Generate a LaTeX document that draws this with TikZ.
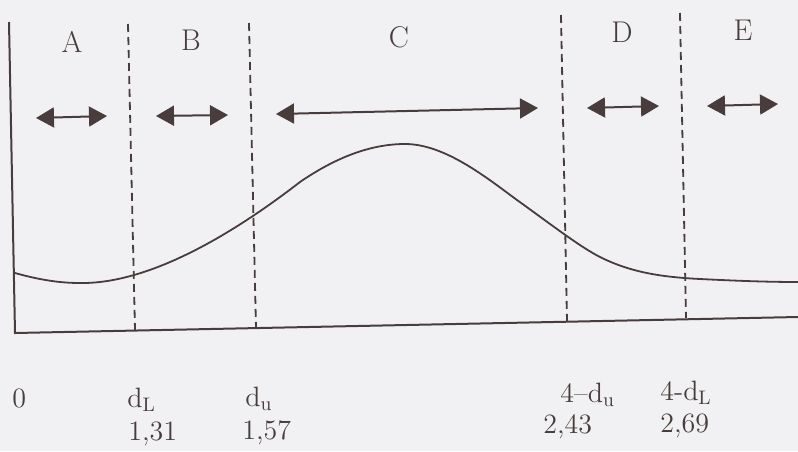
\documentclass[tikz,border=0pt]{standalone}
\usetikzlibrary{arrows.meta}
\definecolor{ink}{RGB}{72,60,60}
\definecolor{paper}{RGB}{241,241,243}
\tikzset{
  zone/.style={font=\fontsize{15}{18}\selectfont, text=ink},
  mark label/.style={font=\fontsize{14}{17}\selectfont, text=ink, anchor=base west, inner sep=0pt},
  span arrow/.style={ink, line width=1pt, {Triangle[length=9pt,width=10pt]}-{Triangle[length=9pt,width=10pt]}},
  border/.style={ink, dashed, dash pattern=on 4pt off 2.5pt, line width=0.9pt}
}
\begin{document}
\begin{tikzpicture}[x=0.5pt, y=-0.5pt]
    % Page
    \fill[paper] (0,0) rectangle (798,451);
    \useasboundingbox (0,0) rectangle (798,451);

    % Axes
    \draw[ink, line width=1pt] (9,22) -- (15,333) -- (798,317);

    % Zone borders
    \foreach \xt/\yt/\xb/\yb in {128/24/135/330, 249/23/256/328, 561/15/567/322, 680/13/686/318}
        \draw[border] (\xt,\yt) -- (\xb,\yb);

    % Curve
    \draw[ink, line width=0.9pt] (15,273)
        .. controls (40,280) and (60,283) .. (80,283)
        .. controls (145,284) and (225,240) .. (300,182)
        .. controls (335,158) and (370,144) .. (405,144)
        .. controls (445,144) and (487,178) .. (517,200)
        .. controls (545,220) and (580,247) .. (600,257)
        .. controls (630,272) and (660,277) .. (700,279)
        .. controls (740,281) and (770,282) .. (798,282);

    % Zone labels and spans
    \foreach \name/\x/\y in {A/72/42, B/191/40, C/399/37, D/622/32, E/743/30}
        \node[zone] (zone\name) at (\x,\y) {\name};
    \foreach \xa/\ya/\xb/\yb in {36/118/107/116, 156/116/228/115, 276/114/538/108, 587/108/659/106, 707/106/778/104}
        \draw[span arrow] (\xa,\ya) -- (\xb,\yb);

    % Limits on the axis
    \node[mark label] (zero) at (12,407) {0};
    \node[mark label] (dL) at (127,407) {d\textsubscript{L}};
    \node[mark label] (dLval) at (128,440) {1,31};
    \node[mark label] (du) at (245,406) {d\textsubscript{u}};
    \node[mark label] (duval) at (242,439) {1,57};
    \node[mark label] (ndu) at (560,402) {4--d\textsubscript{u}};
    \node[mark label] (nduval) at (543,433) {2,43};
    \node[mark label] (ndL) at (660,400) {4-d\textsubscript{L}};
    \node[mark label] (ndLval) at (660,432) {2,69};

\end{tikzpicture}
\end{document}
